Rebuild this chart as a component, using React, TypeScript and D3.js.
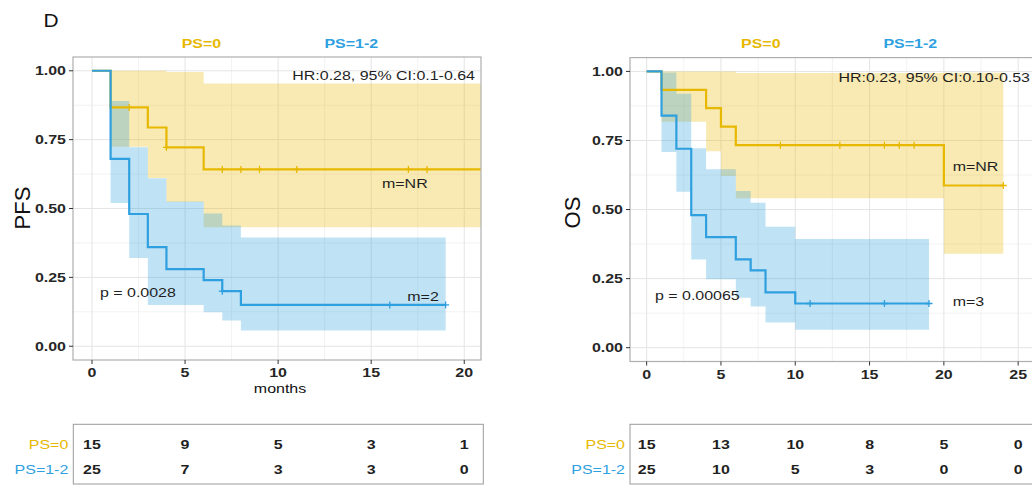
import React from "react";
import * as d3 from "d3";

// ---------- data ----------
const groups = ["PS=0", "PS=1-2"];
const groupColors = ["#E7B800", "#2E9FDF"];

const survTicks = [0, 0.25, 0.5, 0.75, 1];
const survTickLabels = ["0.00", "0.25", "0.50", "0.75", "1.00"];
const pfsTimeTicks = [0, 5, 10, 15, 20];
const osTimeTicks = [0, 5, 10, 15, 20, 25];

// PFS, PS=0
const pfs0Time = [0, 1, 3, 4, 6];
const pfs0Surv = [1, 0.867, 0.794, 0.722, 0.642];
const pfs0Upper = [1, 1, 1, 0.996, 0.954];
const pfs0Lower = [1, 0.724, 0.611, 0.524, 0.432];
const pfs0End = 21;
const pfs0Censor = [2, 4, 7, 8, 9, 11, 17, 18];
// PFS, PS=1-2
const pfs1Time = [0, 1, 2, 3, 4, 6, 7, 8];
const pfs1Surv = [1, 0.68, 0.48, 0.36, 0.28, 0.24, 0.2, 0.15];
const pfs1Upper = [1, 0.89, 0.722, 0.61, 0.525, 0.482, 0.438, 0.395];
const pfs1Lower = [1, 0.52, 0.32, 0.15, 0.15, 0.123, 0.093, 0.057];
const pfs1End = 19;
const pfs1Censor = [7, 16, 19];

// OS, PS=0
const os0Time = [0, 1, 4, 5, 6, 20];
const os0Surv = [1, 0.933, 0.867, 0.8, 0.733, 0.587];
const os0Upper = [1, 1, 1, 1, 0.994, 0.995];
const os0Lower = [1, 0.818, 0.711, 0.621, 0.541, 0.34];
const os0End = 24;
const os0Censor = [9, 13, 16, 17, 18, 24];
// OS, PS=1-2
const os1Time = [0, 1, 2, 3, 4, 6, 7, 8, 10];
const os1Surv = [1, 0.84, 0.72, 0.48, 0.4, 0.32, 0.28, 0.2, 0.16];
const os1Upper = [1, 0.996, 0.919, 0.722, 0.646, 0.567, 0.525, 0.438, 0.393];
const os1Lower = [1, 0.708, 0.564, 0.319, 0.248, 0.181, 0.149, 0.091, 0.065];
const os1End = 19;
const os1Censor = [11, 16, 19];

// number at risk
const pfsRisk0 = [15, 9, 5, 3, 1];
const pfsRisk1 = [25, 7, 3, 3, 0];
const osRisk0 = [15, 13, 10, 8, 5, 0];
const osRisk1 = [25, 10, 5, 3, 0, 0];

const FONT = "'Liberation Sans', Arial, Helvetica, sans-serif";
const SX = 1.2;

type TProps = {
  x: number; y: number; anchor?: string; size?: number; weight?: string | number;
  fill?: string; rotate?: number; sx?: number; children: React.ReactNode;
};
const T = ({ x, y, anchor = "start", size = 13.3, weight = "normal", fill = "#1f1f1f", rotate = 0, sx = SX, children }: TProps) => (
  <text
    transform={`translate(${x},${y})${rotate ? ` rotate(${rotate})` : ""} scale(${sx},1)`}
    textAnchor={anchor as any}
    fontSize={size}
    fontWeight={weight as any}
    fill={fill}
    fontFamily={FONT}
  >
    {children}
  </text>
);

type Curve = { time: number[]; surv: number[]; upper: number[]; lower: number[]; end: number; censor: number[] };

function stepAt(c: Curve, t: number) {
  let v = c.surv[0];
  for (let i = 0; i < c.time.length; i++) if (c.time[i] <= t) v = c.surv[i];
  return v;
}

type PanelProps = {
  id: string;
  box: { x0: number; x1: number; y0: number; y1: number };
  xDomain: [number, number];
  xTicks: number[];
  curves: Curve[];
  yLabel: string;
  yLabelPos: [number, number];
  xLabel?: string;
  hr: string; hrPos: [number, number];
  pText: string; pPos: [number, number];
  mTexts: string[]; mPos: [number, number][];
  legendPos: [number, number][];
  risk: number[][];
  table: { x0: number; x1: number; y0: number; y1: number; labelX: number };
};

function Panel(p: PanelProps) {
  const { box } = p;
  const x = d3.scaleLinear().domain(p.xDomain).range([box.x0, box.x1]);
  const y = d3.scaleLinear().domain([-0.05, 1.05]).range([box.y1, box.y0]);
  const minorX: number[] = [];
  for (let v = 2.5; v < p.xDomain[1]; v += 5) minorX.push(v);
  const minorY = [0.125, 0.375, 0.625, 0.875];

  const line = d3.line<[number, number]>().x((d) => x(d[0])).y((d) => y(d[1])).curve(d3.curveStepAfter);
  const area = d3
    .area<[number, number, number]>()
    .x((d) => x(d[0]))
    .y0((d) => y(d[1]))
    .y1((d) => y(d[2]))
    .curve(d3.curveStepAfter);

  const clipId = `clip-${p.id}`;
  return (
    <g>
      <defs>
        <clipPath id={clipId}>
          <rect x={box.x0} y={box.y0} width={box.x1 - box.x0} height={box.y1 - box.y0} />
        </clipPath>
      </defs>
      {/* grid */}
      {minorX.map((v) => (
        <line key={"mx" + v} x1={x(v)} x2={x(v)} y1={box.y0} y2={box.y1} stroke="#EFEFEF" strokeWidth={0.8} />
      ))}
      {minorY.map((v) => (
        <line key={"my" + v} x1={box.x0} x2={box.x1} y1={y(v)} y2={y(v)} stroke="#EFEFEF" strokeWidth={0.8} />
      ))}
      {p.xTicks.map((v) => (
        <line key={"gx" + v} x1={x(v)} x2={x(v)} y1={box.y0} y2={box.y1} stroke="#E4E4E4" strokeWidth={1} />
      ))}
      {survTicks.map((v) => (
        <line key={"gy" + v} x1={box.x0} x2={box.x1} y1={y(v)} y2={y(v)} stroke="#E4E4E4" strokeWidth={1} />
      ))}
      <g clipPath={`url(#${clipId})`}>
        {p.curves.map((c, gi) => {
          const pts: [number, number, number][] = c.time.map((t, i) => [t, c.lower[i], c.upper[i]]);
          pts.push([c.end, c.lower[c.lower.length - 1], c.upper[c.upper.length - 1]]);
          return <path key={"ci" + gi} d={area(pts) || ""} fill={groupColors[gi]} fillOpacity={0.3} stroke="none" />;
        })}
        {p.curves.map((c, gi) => {
          const pts: [number, number][] = c.time.map((t, i) => [t, c.surv[i]]);
          pts.push([c.end, c.surv[c.surv.length - 1]]);
          return (
            <g key={"ln" + gi}>
              <path d={line(pts) || ""} fill="none" stroke={groupColors[gi]} strokeWidth={2.2} />
              {c.censor.map((t, k) => {
                const v = stepAt(c, t);
                return (
                  <g key={k}>
                    <line x1={x(t)} x2={x(t)} y1={y(v) - 3.5} y2={y(v) + 3.5} stroke={groupColors[gi]} strokeWidth={1.3} />
                    <line x1={x(t) - 3.5} x2={x(t) + 3.5} y1={y(v)} y2={y(v)} stroke={groupColors[gi]} strokeWidth={1.3} />
                  </g>
                );
              })}
            </g>
          );
        })}
      </g>
      {/* border */}
      <rect x={box.x0} y={box.y0} width={box.x1 - box.x0} height={box.y1 - box.y0} fill="none" stroke="#AFAFAF" strokeWidth={1.2} />
      {/* y axis ticks */}
      {survTicks.map((v, i) => (
        <g key={"yt" + v}>
          <line x1={box.x0 - 4} x2={box.x0} y1={y(v)} y2={y(v)} stroke="#333" strokeWidth={1} />
          <T x={box.x0 - 7} y={y(v) + 4.6} anchor="end" weight="bold" fill="#262626">
            {survTickLabels[i]}
          </T>
        </g>
      ))}
      {p.xTicks.map((v) => (
        <g key={"xt" + v}>
          <line x1={x(v)} x2={x(v)} y1={box.y1} y2={box.y1 + 4} stroke="#333" strokeWidth={1} />
          <T x={x(v)} y={box.y1 + 17} anchor="middle" weight="bold" fill="#262626">
            {String(v)}
          </T>
        </g>
      ))}
      <T x={p.yLabelPos[0]} y={p.yLabelPos[1]} anchor="middle" size={22} rotate={-90} sx={1} fill="#111">
        {p.yLabel}
      </T>
      {p.xLabel && (
        <T x={(box.x0 + box.x1) / 2 + 3} y={box.y1 + 33} anchor="middle" size={13.3} fill="#111">
          {p.xLabel}
        </T>
      )}
      {/* legend */}
      {groups.map((g, gi) => (
        <T key={"lg" + gi} x={p.legendPos[gi][0]} y={p.legendPos[gi][1]} anchor="middle" weight="bold" fill={groupColors[gi]}>
          {g}
        </T>
      ))}
      {/* annotations */}
      <T x={p.hrPos[0]} y={p.hrPos[1]} anchor="end" fill="#1f1f1f">{p.hr}</T>
      <T x={p.pPos[0]} y={p.pPos[1]} fill="#1f1f1f">{p.pText}</T>
      {p.mTexts.map((m, i) => (
        <T key={"m" + i} x={p.mPos[i][0]} y={p.mPos[i][1]} fill="#1f1f1f">{m}</T>
      ))}
      {/* risk table */}
      <rect x={p.table.x0} y={p.table.y0} width={p.table.x1 - p.table.x0} height={p.table.y1 - p.table.y0} fill="none" stroke="#9A9A9A" strokeWidth={1} />
      {p.risk.map((row, ri) => (
        <g key={"r" + ri}>
          <T x={p.table.labelX} y={449.3 + ri * 25} anchor="end" fill={groupColors[ri]}>
            {groups[ri]}
          </T>
          {row.map((n, k) => (
            <T key={k} x={x(p.xTicks[k])} y={449.3 + ri * 25} anchor="middle" weight="bold" fill="#1f1f1f">
              {String(n)}
            </T>
          ))}
        </g>
      ))}
    </g>
  );
}

export default function App() {
  const pfsCurves: Curve[] = [
    { time: pfs0Time, surv: pfs0Surv, upper: pfs0Upper, lower: pfs0Lower, end: pfs0End, censor: pfs0Censor },
    { time: pfs1Time, surv: pfs1Surv, upper: pfs1Upper, lower: pfs1Lower, end: pfs1End, censor: pfs1Censor },
  ];
  const osCurves: Curve[] = [
    { time: os0Time, surv: os0Surv, upper: os0Upper, lower: os0Lower, end: os0End, censor: os0Censor },
    { time: os1Time, surv: os1Surv, upper: os1Upper, lower: os1Lower, end: os1End, censor: os1Censor },
  ];
  return (
    <svg width={1032} height={485} style={{ position: "absolute", left: 0, top: 0, display: "block", background: "#fff" }}>
      <rect x={0} y={0} width={1032} height={485} fill="#fff" />
      <T x={43.5} y={27} size={19} sx={1.1} fill="#111">D</T>
      <Panel
        id="pfs"
        box={{ x0: 73, x1: 481, y0: 57, y1: 360 }}
        xDomain={[-1.02, 20.9]}
        xTicks={pfsTimeTicks}
        curves={pfsCurves}
        yLabel="PFS"
        yLabelPos={[30, 208]}
        xLabel="months"
        hr="HR:0.28, 95% CI:0.1-0.64"
        hrPos={[475, 80]}
        pText="p = 0.0028"
        pPos={[100, 296.7]}
        mTexts={["m=NR", "m=2"]}
        mPos={[[382, 188.3], [407.3, 300.7]]}
        legendPos={[[201.4, 48.3], [351.3, 48.3]]}
        risk={[pfsRisk0, pfsRisk1]}
        table={{ x0: 73.3, x1: 483.3, y0: 424.3, y1: 484, labelX: 68.3 }}
      />
      <Panel
        id="os"
        box={{ x0: 630, x1: 1036, y0: 57.6, y1: 361.5 }}
        xDomain={[-1.12, 26.2]}
        xTicks={osTimeTicks}
        curves={osCurves}
        yLabel="OS"
        yLabelPos={[580, 212.5]}
        hr="HR:0.23, 95% CI:0.10-0.53"
        hrPos={[1030, 82]}
        pText="p = 0.00065"
        pPos={[655, 300]}
        mTexts={["m=NR", "m=3"]}
        mPos={[[952.7, 171.3], [952.7, 306]]}
        legendPos={[[760.8, 48.3], [910.3, 48.3]]}
        risk={[osRisk0, osRisk1]}
        table={{ x0: 630, x1: 1040, y0: 424.3, y1: 484, labelX: 625 }}
      />
    </svg>
  );
}
